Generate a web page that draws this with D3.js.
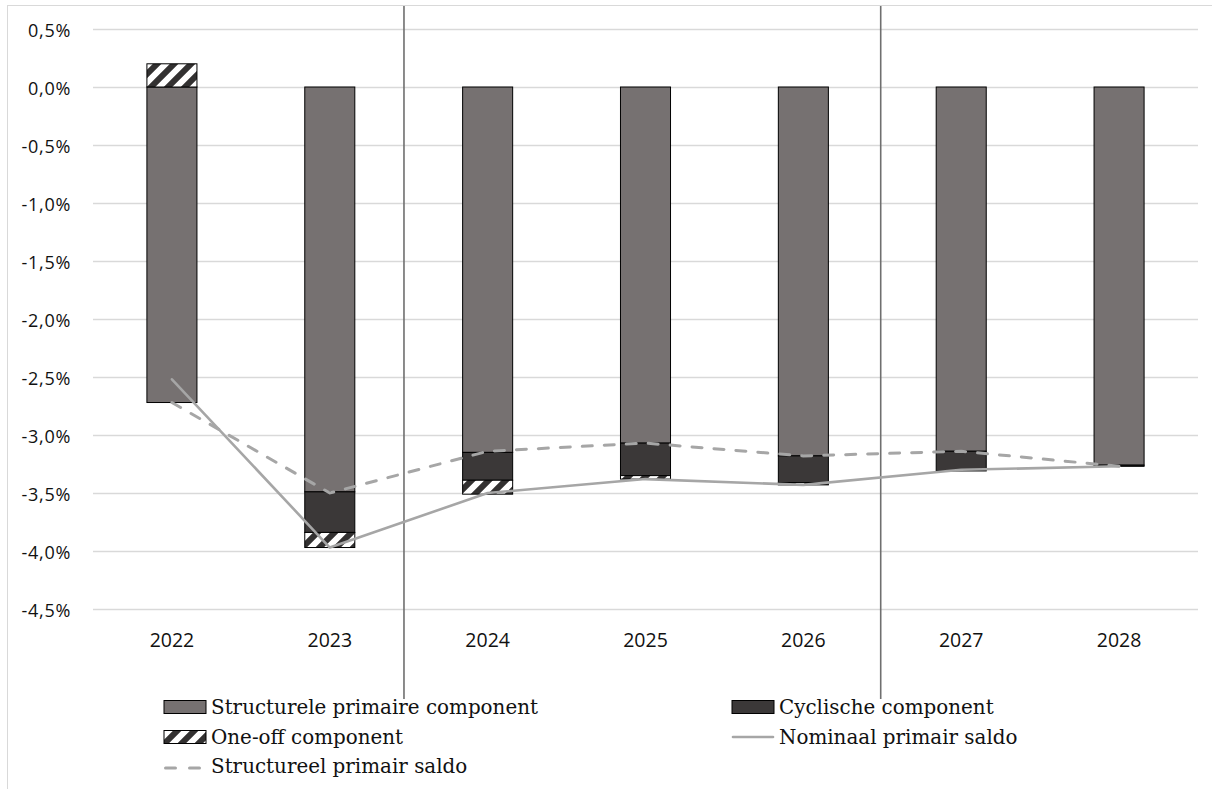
<!DOCTYPE html>
<html>
<head>
<meta charset="utf-8">
<script src="https://cdn.jsdelivr.net/npm/d3@7"></script>
<style>
  html, body { margin: 0; padding: 0; background: #ffffff; }
  svg { display: block; }
</style>
</head>
<body>
<svg id="chart" width="1212" height="789"></svg>
<script>
// Decomposition of the primary balance (% of GDP), 2022–2028
const years = ["2022", "2023", "2024", "2025", "2026", "2027", "2028"];
const structural = [-2.72, -3.49, -3.15, -3.07, -3.18, -3.14, -3.26];
const cyclical   = [0.00, -0.35, -0.24, -0.28, -0.23, -0.17, -0.01];
const oneOff     = [0.20, -0.13, -0.12, -0.03, -0.02, 0.00, 0.00];
const nominal    = [-2.52, -3.97, -3.50, -3.38, -3.43, -3.30, -3.27];
const structSaldo = [-2.72, -3.50, -3.14, -3.07, -3.18, -3.14, -3.27];
const yTicks = [0.5, 0, -0.5, -1, -1.5, -2, -2.5, -3, -3.5, -4, -4.5];
// period dividers, expressed in category-index units
const dividers = [1.47, 4.49];

const legendItems = [
  { key: "structural", label: "Structurele primaire component", type: "rect" },
  { key: "cyclical", label: "Cyclische component", type: "rect" },
  { key: "oneOff", label: "One-off component", type: "rect" },
  { key: "nominal", label: "Nominaal primair saldo", type: "line" },
  { key: "saldo", label: "Structureel primair saldo", type: "dash" }
];

const colors = {
  structural: "#767171",
  cyclical: "#3b3838",
  oneOff: "url(#oneoff-pattern)",
  line: "#a6a6a6"
};

const svg = d3.select("#chart");
const margin = { left: 93, right: 1198, top: 29, bottom: 609 };

// pattern for the one-off component
const defs = svg.append("defs");
const pat = defs.append("pattern")
  .attr("id", "oneoff-pattern")
  .attr("patternUnits", "userSpaceOnUse")
  .attr("width", 17).attr("height", 17);
pat.append("rect").attr("width", 17).attr("height", 17).attr("fill", "#ffffff");
pat.append("path")
  .attr("d", "M-4,4 L4,-4 M0,17 L17,0 M13,21 L21,13")
  .attr("stroke", "#333131").attr("stroke-width", 6);

// outer chart frame
svg.append("rect")
  .attr("x", 7.5).attr("y", 5.5)
  .attr("width", 1300).attr("height", 900)
  .attr("fill", "none").attr("stroke", "#d9d9d9").attr("stroke-width", 1);

const x = d3.scaleBand()
  .domain(years)
  .range([margin.left, margin.right])
  .paddingInner(0.683)
  .paddingOuter(0.3415);

const xIndex = d3.scaleLinear()
  .domain([0, years.length - 1])
  .range([x(years[0]) + x.bandwidth() / 2, x(years[years.length - 1]) + x.bandwidth() / 2]);

const y = d3.scaleLinear()
  .domain([-4.5, 0.5])
  .range([margin.bottom, margin.top]);

const fmt = v => (v < 0 ? "-" : "") + Math.abs(v).toFixed(1).replace(".", ",") + "%";

// y axis with gridlines
const yAxis = svg.append("g")
  .attr("transform", `translate(${margin.left},0)`)
  .call(d3.axisLeft(y)
    .tickValues(yTicks)
    .tickSize(-(margin.right - margin.left))
    .tickPadding(22)
    .tickFormat(fmt));
yAxis.select(".domain").remove();
yAxis.selectAll(".tick line").attr("stroke", "#d9d9d9").attr("stroke-width", 1.3);
yAxis.selectAll(".tick text")
  .attr("dy", "0.42em")
  .attr("fill", "#111111")
  .style("font-family", "'Open Sans', sans-serif")
  .style("font-size", "18px")
  .style("letter-spacing", "0.7px");

// x axis labels
const xAxis = svg.append("g")
  .attr("transform", `translate(0,${margin.bottom})`)
  .call(d3.axisBottom(x).tickSize(0).tickPadding(24));
xAxis.select(".domain").remove();
xAxis.selectAll(".tick text")
  .attr("fill", "#111111")
  .style("font-family", "'Open Sans', sans-serif")
  .style("font-size", "19.5px");

// period dividers
svg.append("g").selectAll("line")
  .data(dividers)
  .join("line")
  .attr("x1", d => xIndex(d)).attr("x2", d => xIndex(d))
  .attr("y1", 6).attr("y2", 699)
  .attr("stroke", "#6f6f6f").attr("stroke-width", 1.6);

// stacked bars
const rows = years.map((yr, i) => ({
  year: yr,
  structural: structural[i],
  cyclical: cyclical[i],
  oneOff: oneOff[i]
}));
const stack = d3.stack()
  .keys(["structural", "cyclical", "oneOff"])
  .offset(d3.stackOffsetDiverging);
const series = stack(rows);

const barG = svg.append("g");
series.forEach(s => {
  barG.append("g")
    .selectAll("rect")
    .data(s.filter(d => d[0] !== d[1]))
    .join("rect")
    .attr("x", d => x(d.data.year))
    .attr("width", x.bandwidth())
    .attr("y", d => y(Math.max(d[0], d[1])))
    .attr("height", d => Math.abs(y(d[0]) - y(d[1])))
    .attr("fill", colors[s.key])
    .attr("stroke", "#000000")
    .attr("stroke-width", 1);
});

// balance lines
const lineGen = d3.line()
  .x((d, i) => x(years[i]) + x.bandwidth() / 2)
  .y(d => y(d));

svg.append("path")
  .datum(structSaldo)
  .attr("d", lineGen)
  .attr("fill", "none")
  .attr("stroke", colors.line)
  .attr("stroke-width", 3)
  .attr("stroke-dasharray", "10 12")
  .attr("stroke-linecap", "round");

svg.append("path")
  .datum(nominal)
  .attr("d", lineGen)
  .attr("fill", "none")
  .attr("stroke", colors.line)
  .attr("stroke-width", 2.6)
  .attr("stroke-linejoin", "round")
  .attr("stroke-linecap", "round");

// legend
const legendPos = [
  { x: 164, y: 714 }, { x: 732, y: 714 },
  { x: 164, y: 744 }, { x: 732, y: 744 },
  { x: 164, y: 773 }
];
const legend = svg.append("g");
legendItems.forEach((item, i) => {
  const p = legendPos[i];
  const g = legend.append("g").attr("transform", `translate(${p.x},${p.y})`);
  if (item.type === "rect") {
    g.append("rect")
      .attr("x", 0).attr("y", -13.5)
      .attr("width", 42).attr("height", 13)
      .attr("fill", colors[item.key])
      .attr("stroke", "#000000").attr("stroke-width", 1);
  } else if (item.type === "line") {
    g.append("line")
      .attr("x1", 1).attr("x2", 41).attr("y1", -7).attr("y2", -7)
      .attr("stroke", colors.line).attr("stroke-width", 2.6)
      .attr("stroke-linecap", "round");
  } else {
    g.append("line")
      .attr("x1", 1.5).attr("x2", 41).attr("y1", -5).attr("y2", -5)
      .attr("stroke", colors.line).attr("stroke-width", 3)
      .attr("stroke-dasharray", "10 14")
      .attr("stroke-linecap", "round");
  }
  g.append("text")
    .attr("x", 47).attr("y", 0)
    .attr("fill", "#111111")
    .style("font-family", "'DejaVu Serif', serif")
    .style("font-size", "19.9px")
    .text(item.label);
});
</script>
</body>
</html>
